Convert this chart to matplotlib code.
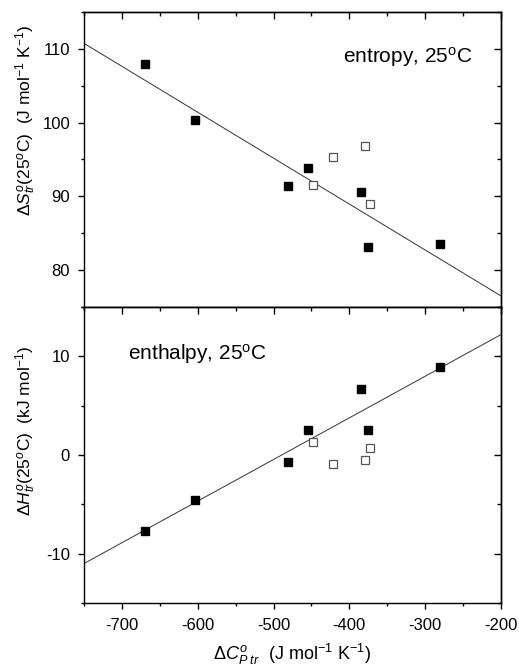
import matplotlib
matplotlib.use('Agg')
import matplotlib.pyplot as plt
from matplotlib.ticker import MultipleLocator

plt.rcParams['font.family'] = ['Liberation Sans', 'DejaVu Sans']
plt.rcParams['mathtext.fontset'] = 'custom'
plt.rcParams['mathtext.rm'] = 'Liberation Sans'
plt.rcParams['mathtext.it'] = 'Liberation Sans:italic'
plt.rcParams['axes.unicode_minus'] = False

# heat capacity of transfer (x) for the two groups of points
cp_filled = [-669, -604, -481, -455, -384, -376, -280]
cp_open = [-448, -422, -379, -373]

# entropy of transfer, J mol-1 K-1
ds_filled = [107.9, 100.4, 91.4, 93.9, 90.6, 83.1, 83.5]
ds_open = [91.5, 95.4, 96.8, 89.0]

# enthalpy of transfer, kJ mol-1
dh_filled = [-7.7, -4.6, -0.7, 2.5, 6.7, 2.5, 8.9]
dh_open = [1.3, -0.9, -0.5, 0.7]

# fitted lines, given by their end points
fit_x = [-750, -200]
fit_ds = [110.75, 76.5]
fit_dh = [-11.0, 12.2]

fig = plt.figure(figsize=(5.19, 6.71), dpi=100)
ax1 = fig.add_axes([0.1618, 0.5425, 0.8035, 0.4396])
ax2 = fig.add_axes([0.1618, 0.1013, 0.8035, 0.4412])

ident = (lambda v: v, lambda v: v)

for ax, yf, yo, fy, yt in [(ax1, ds_filled, ds_open, fit_ds, [80, 90, 100, 110]),
                           (ax2, dh_filled, dh_open, fit_dh, [-10, 0, 10])]:
    ax.plot(fit_x, fy, color='#333333', lw=0.7)
    ax.plot(cp_filled, yf, 's', color='black', ms=6.3, mec='black', zorder=3)
    ax.plot(cp_open, yo, 's', mfc='white', mec='#555555', mew=0.9, ms=6.0, zorder=3)
    ax.set_xlim(-750, -200)
    ax.set_yticks(yt)
    ax.xaxis.set_major_locator(MultipleLocator(100))
    ax.xaxis.set_minor_locator(MultipleLocator(50))
    ax.yaxis.set_minor_locator(MultipleLocator(5))
    ax.tick_params(which='both', direction='out', labelsize=12, width=1)
    ax.tick_params(which='major', length=4.5)
    ax.tick_params(which='minor', length=2.5)
    ax.tick_params(axis='y', pad=5.5)
    ax.tick_params(axis='x', pad=6)
    for s in ax.spines.values():
        s.set_linewidth(1.0)
    # top and right ticks point inward
    top = ax.secondary_xaxis('top', functions=ident)
    right = ax.secondary_yaxis('right', functions=ident)
    top.xaxis.set_major_locator(MultipleLocator(100))
    top.xaxis.set_minor_locator(MultipleLocator(50))
    right.set_yticks(yt)
    right.yaxis.set_minor_locator(MultipleLocator(5))
    for sec in (top, right):
        sec.tick_params(which='both', direction='in', width=1, labeltop=False, labelright=False)
        sec.tick_params(which='major', length=5)
        sec.tick_params(which='minor', length=3)
        for s in sec.spines.values():
            s.set_linewidth(1.0)

ax1.set_ylim(75, 115)
ax1.tick_params(labelbottom=False)
ax1.set_ylabel(r'$\Delta S^{o}_{tr}$(25$^{o}$C)  (J mol$^{-1}$ K$^{-1}$)', fontsize=12.5)
ax1.yaxis.set_label_coords(-0.11, 0.634)
ax1.text(0.621, 0.827, r'entropy, 25$^{\rm o}$C', transform=ax1.transAxes, fontsize=15, va='baseline')

ax2.set_ylim(-15, 15)
ax2.set_ylabel(r'$\Delta H^{o}_{tr}$(25$^{o}$C)  (kJ mol$^{-1}$)', fontsize=12.5)
ax2.yaxis.set_label_coords(-0.11, 0.581)
ax2.text(0.105, 0.821, r'enthalpy, 25$^{\rm o}$C', transform=ax2.transAxes, fontsize=15, va='baseline')
ax2.set_xlabel(r'$\Delta C^{o}_{P\ tr}$  (J mol$^{-1}$ K$^{-1}$)', fontsize=13, labelpad=7)

fig.savefig('out.png', dpi=100)
